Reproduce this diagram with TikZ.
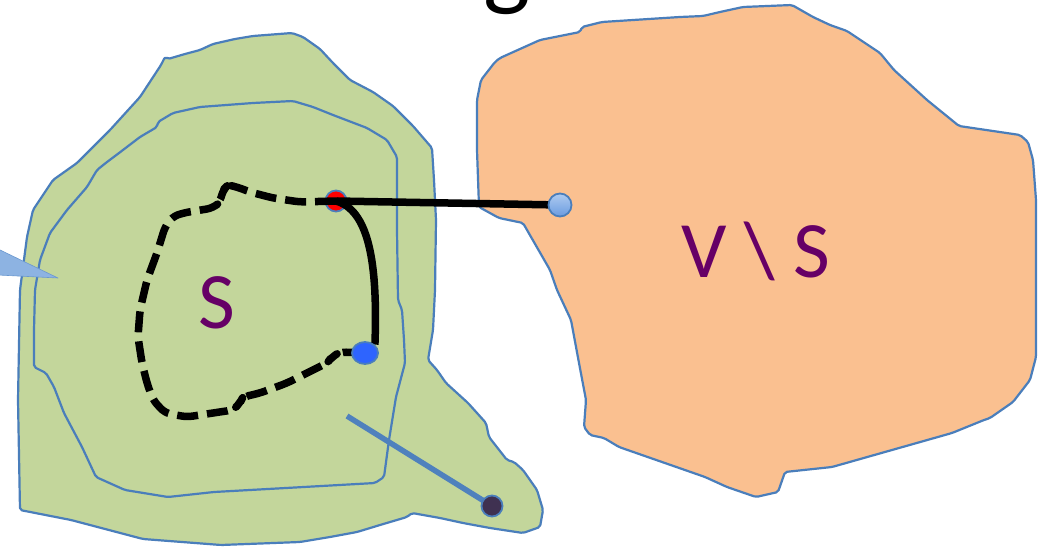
\documentclass[tikz,border=0pt]{standalone}
\usepackage{fontspec}
\setmainfont{Carlito}
\usetikzlibrary{shapes.geometric}
\definecolor{greenfill}{HTML}{C3D69B}
\definecolor{orangefill}{HTML}{FAC090}
\definecolor{outline}{HTML}{4A7EBB}
\definecolor{callout}{HTML}{8DB3E2}
\definecolor{calloutline}{HTML}{6A98D0}
\definecolor{labelpurple}{HTML}{660066}
\definecolor{dotblue}{HTML}{2E64FE}
\definecolor{dotdark}{HTML}{3F3151}
\definecolor{dotlightA}{HTML}{AFCBF0}
\definecolor{dotlightB}{HTML}{6A9BE0}
\definecolor{linkblue}{HTML}{4F81BD}
\pgfdeclarelayer{bg}
\pgfdeclarelayer{mid}
\pgfdeclarelayer{front}
\pgfsetlayers{bg,mid,main,front}
\begin{document}
\begin{tikzpicture}[x=1pt,y=-1pt,
  region/.style={draw=outline,line width=2.2pt,line join=round,rounded corners=2pt},
  dotbase/.style={circle,draw=outline,line width=1.8pt,inner sep=0pt},
  thickedge/.style={line width=7.5pt,black},
  dashedge/.style={line width=7.5pt,black,dash pattern=on 21pt off 9pt,rounded corners=6pt,line join=round},
  biglabel/.style={text=labelpurple,font=\fontsize{80}{80}\selectfont,inner sep=0pt,anchor=base}]
\useasboundingbox (0,0) rectangle (1038,548);
\begin{pgfonlayer}{bg}
\fill[white] (0,0) rectangle (1038,548);
% outer set (green)
\path[region,fill=greenfill] (161,65) -- (165,57) -- (168,59) -- (185,54) -- (200,50) -- (213,44) -- (235,39) -- (253,36) -- (292,33) -- (303,37) -- (320,49) -- (333,63) -- (350,80) -- (373,92) -- (393,106) -- (413,126) -- (432,148) -- (434,180) -- (436,220) -- (435,290) -- (433,330) -- (428,360) -- (437,370) -- (446,383) -- (468,403) -- (486,423) -- (489,437) -- (507,460) -- (514,462) -- (523,470) -- (537,490) -- (543,510) -- (540,527) -- (523,533) -- (490,528) -- (463,523) -- (440,518) -- (412,513) -- (407,517) -- (380,525) -- (357,532) -- (330,537) -- (300,542) -- (221,545) -- (143,539) -- (71,520) -- (20,510) -- (18,400) -- (20,290) -- (27,237) -- (33,210) -- (53,180) -- (77,163) -- (110,130) -- (140,97) -- cycle;
% inner outline
\path[region] (35,290) -- (40,260) -- (50,233) -- (67,210) -- (87,187) -- (97,170) -- (107,162) -- (123,150) -- (140,137) -- (157,127) -- (158,122) -- (173,113) -- (200,107) -- (253,103) -- (293,101) -- (313,107) -- (333,115) -- (367,128) -- (387,140) -- (397,157) -- (397,230) -- (398,300) -- (402,310) -- (404,340) -- (405,363) -- (396,397) -- (389,440) -- (384,477) -- (375,483) -- (286,488) -- (214,492) -- (168,497) -- (125,490) -- (96,477) -- (82,447) -- (64,413) -- (54,387) -- (46,373) -- (34,367) -- (34,330) -- cycle;
% V \ S (orange)
\path[region,fill=orangefill] (477,100) -- (481,80) -- (495,62) -- (500,58) -- (540,40) -- (580,32) -- (582,27) -- (602,22) -- (680,17) -- (703,16) -- (720,12) -- (743,7) -- (792,5) -- (813,17) -- (830,25) -- (847,31) -- (880,53) -- (894,70) -- (927,100) -- (959,126) -- (1020,135) -- (1028,142) -- (1033,160) -- (1036,200) -- (1036,357) -- (1030,380) -- (1013,402) -- (990,418) -- (984,420) -- (952,433) -- (832,467) -- (785,472) -- (778,492) -- (756,497) -- (727,487) -- (705,477) -- (619,447) -- (604,438) -- (590,435) -- (584,427) -- (586,400) -- (579,363) -- (571,320) -- (557,290) -- (550,270) -- (523,223) -- (499,218) -- (479,207) -- (477,150) -- cycle;
% callout pointer
\path[fill=callout,draw=calloutline,line width=0.6pt,line join=round] (-2,249) -- (58,278) -- (-2,275) -- cycle;
\end{pgfonlayer}
% title fragment
\begin{scope}
\clip (0,0) rectangle (1038,548);
\node[inner sep=0pt,anchor=south,font=\fontsize{100}{100}\selectfont] (title) at (507,15) {g};
\end{scope}
% dots
\begin{pgfonlayer}{mid}
\node[dotbase,fill=red,minimum size=21pt] (u) at (336,201) {};
\end{pgfonlayer}
\begin{pgfonlayer}{front}
\node[dotbase,shading=axis,top color=dotlightA,bottom color=dotlightB,minimum size=23pt] (v) at (560,205) {};
\node[dotbase,ellipse,fill=dotblue,minimum width=26pt,minimum height=22pt] (w) at (365,353) {};
\node[dotbase,fill=dotdark,minimum size=21pt] (z) at (492,506) {};
\end{pgfonlayer}
\coordinate (lstart) at (347,416);
% connectors
\draw[dashedge] (u.center) -- (300,202) -- (273,198) -- (250,192) -- (237,187) -- (228,185) -- (223,190) -- (220,202) -- (213,208) -- (183,213) -- (172,217) -- (165,227) -- (157,253) -- (147,280) -- (140,310) -- (138,337) -- (142,363) -- (147,383) -- (153,400) -- (165,413) -- (187,417) -- (213,413) -- (233,410) -- (240,403) -- (243,397) -- (260,393) -- (287,383) -- (313,370) -- (327,363) -- (332,357) -- (340,352) -- (w.center);
\draw[thickedge] (u.center) -- (v.center);
\draw[thickedge] (u.center) .. controls (368,210) and (378,260) .. (w.40);
\draw[linkblue,line width=5.5pt] (lstart) -- (z.center);
% labels
\node[biglabel] (s) at (217,328) {S};
\node[biglabel] (vs) at (756,277) {V \textbackslash{} S};
\end{tikzpicture}
\end{document}
